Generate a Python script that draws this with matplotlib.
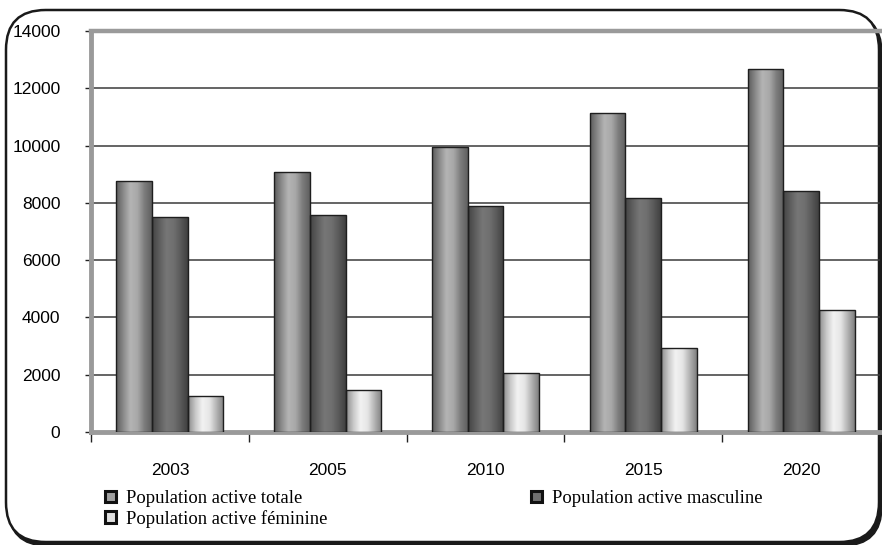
import matplotlib.pyplot as plt
import numpy as np
from matplotlib.colors import LinearSegmentedColormap
from matplotlib.patches import FancyBboxPatch, Patch

plt.rcParams.update({'font.family': 'Liberation Sans', 'font.size': 12})

years = ['2003', '2005', '2010', '2015', '2020']
totale = [8760, 9070, 9950, 11140, 12680]
masculine = [7500, 7580, 7890, 8170, 8420]
feminine = [1260, 1480, 2060, 2950, 4270]
series_names = ['Population active totale', 'Population active masculine',
                'Population active féminine']

# cylinder-like shading for each series (left edge -> right edge)
shades = [
    ['#5c5c5c', '#8a8a8a', '#b4b4b4', '#a8a8a8', '#7c7c7c', '#606060'],
    ['#444444', '#5e5e5e', '#767676', '#707070', '#5a5a5a', '#404040'],
    ['#8c8c8c', '#c8c8c8', '#f2f2f2', '#e6e6e6', '#b4b4b4', '#808080'],
]
legend_fill = ['#a0a0a0', '#707070', '#e0e0e0']

W, H = 882, 545
fig = plt.figure(figsize=(W / 100, H / 100), dpi=100)

# rounded frame with a dark drop shadow along bottom/right
def px_box(x0, y0, x1, y1, **kw):
    return FancyBboxPatch((x0 / W, 1 - y1 / H), (x1 - x0) / W, (y1 - y0) / H,
                          boxstyle='round,pad=0,rounding_size=0.045',
                          transform=fig.transFigure, mutation_aspect=W / H, **kw)

fig.add_artist(px_box(8, 13, 882, 546, facecolor='#1a1a1a', edgecolor='#1a1a1a',
                      lw=1, zorder=-2))
fig.add_artist(px_box(6, 10, 879, 542, facecolor='white', edgecolor='#1a1a1a',
                      lw=1.8, zorder=-1))

ax = fig.add_axes([91 / W, 113 / H, 789 / W, 401 / H])
ax.patch.set_alpha(0)

x = np.arange(len(years))
bw = 0.226
groups = [totale, masculine, feminine]
for i, vals in enumerate(groups):
    bars = ax.bar(x + (i - 1) * bw, vals, bw, facecolor='none',
                  edgecolor='#1e1e1e', lw=1.0, zorder=4)
    cmap = LinearSegmentedColormap.from_list('s%d' % i, shades[i])
    grad = np.linspace(0, 1, 64).reshape(1, -1)
    for b in bars:
        x0, y0 = b.get_x(), b.get_y()
        im = ax.imshow(grad, cmap=cmap, extent=[x0, x0 + b.get_width(), y0, y0 + b.get_height()],
                       aspect='auto', interpolation='bilinear', zorder=3)
        im.set_clip_path(b)

ax.set_xlim(-0.5, 4.46)
ax.set_ylim(0, 14000)
ax.set_yticks(np.arange(0, 14001, 2000))
ax.yaxis.grid(True, color='#3a3a3a', lw=1.1, zorder=1)
ax.set_axisbelow(True)

# walls and floor
ax.axhline(14000, color='#9a9a9a', lw=3.2, zorder=2, clip_on=False)
ax.axhline(0, color='#9a9a9a', lw=3.5, zorder=2, clip_on=False)
ax.axvline(-0.5, color='#9a9a9a', lw=3.5, zorder=2, clip_on=False)

for s in ax.spines.values():
    s.set_visible(False)

ax.set_xticks(np.arange(-0.5, 5, 1.0))
ax.set_xticklabels([])
ax.set_xticks(x, minor=True)
ax.set_xticklabels(years, minor=True)
ax.tick_params(axis='x', which='major', length=7, width=1, color='#222222', direction='out')
ax.tick_params(axis='x', which='minor', length=0, pad=22, labelsize=12.5)
ax.tick_params(axis='y', length=4, width=1, color='#222222', pad=18, labelsize=12.5)

handles = [Patch(facecolor=legend_fill[k], edgecolor='#111111', lw=2.2) for k in range(3)]
order = [0, 2, 1]
fig.legend([handles[k] for k in order], [series_names[k] for k in order],
           ncol=2, loc='upper left', bbox_to_anchor=(105 / W, 1 - 490 / H),
           frameon=False, handlelength=0.6, handleheight=0.6, handletextpad=0.55,
           columnspacing=10.9, labelspacing=0.15, borderaxespad=0, borderpad=0,
           prop={'family': 'Liberation Serif', 'size': 13.4})

fig.savefig('out.png', dpi=100)
